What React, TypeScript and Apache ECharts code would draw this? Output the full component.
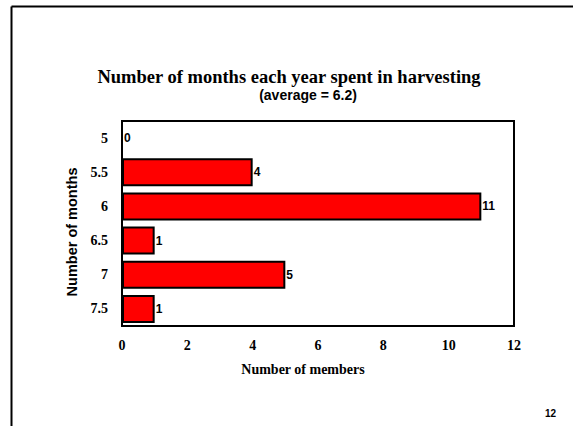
import React, { useEffect, useRef } from "react";
import * as echarts from "echarts";

const categories = ["5", "5.5", "6", "6.5", "7", "7.5"];
const members = [0, 4, 11, 1, 5, 1];
const titleText = "Number of months each year spent in harvesting";
const subtitleText = "(average = 6.2)";
const xName = "Number of members";
const yName = "Number of months";
const pageNumber = "12";

export default function App() {
  const ref = useRef<HTMLDivElement>(null);
  useEffect(() => {
    if (!ref.current) return;
    const chart = echarts.init(ref.current, null, { renderer: "svg" });
    const serif = "'Liberation Serif', 'Times New Roman', serif";
    const sans = "'Liberation Sans', Arial, sans-serif";
    chart.setOption({
      animation: false,
      backgroundColor: "#ffffff",
      grid: {
        left: 122,
        top: 121,
        right: 59,
        bottom: 100,
        show: true,
        borderColor: "#000",
        borderWidth: 2,
        backgroundColor: "transparent",
      },
      xAxis: {
        type: "value",
        min: 0,
        max: 12,
        interval: 2,
        splitLine: { show: false },
        axisTick: { show: false },
        axisLine: { show: true, lineStyle: { color: "#000", width: 2 } },
        axisLabel: {
          color: "#000",
          fontFamily: serif,
          fontWeight: "bold",
          fontSize: 14,
          margin: 12,
        },
      },
      yAxis: {
        type: "category",
        inverse: true,
        data: categories,
        axisTick: { show: false },
        axisLine: { show: true, lineStyle: { color: "#000", width: 2 } },
        axisLabel: {
          color: "#000",
          fontFamily: serif,
          fontWeight: "bold",
          fontSize: 14,
          margin: 14,
        },
      },
      series: [
        {
          type: "bar",
          data: members,
          barCategoryGap: "18%",
          itemStyle: { color: "#ff0000", borderColor: "#000", borderWidth: 2 },
          label: {
            show: true,
            position: "right",
            distance: 1,
            color: "#000",
            fontFamily: sans,
            fontWeight: "bold",
            fontSize: 12,
          },
        },
      ],
      graphic: [
        {
          type: "line",
          shape: { x1: 11.5, y1: 6.5, x2: 573, y2: 6.5 },
          style: { stroke: "#000", lineWidth: 2 },
        },
        {
          type: "line",
          shape: { x1: 11.5, y1: 6.5, x2: 11.5, y2: 426 },
          style: { stroke: "#000", lineWidth: 2 },
        },
        {
          type: "text",
          x: 289,
          y: 77,
          style: {
            text: titleText,
            fill: "#000",
            font: `bold 18.5px ${serif}`,
            textAlign: "center",
            textVerticalAlign: "middle",
          },
        },
        {
          type: "text",
          x: 308,
          y: 95,
          style: {
            text: subtitleText,
            fill: "#000",
            font: `bold 14px ${sans}`,
            textAlign: "center",
            textVerticalAlign: "middle",
          },
        },
        {
          type: "text",
          x: 303,
          y: 369,
          style: {
            text: xName,
            fill: "#000",
            font: `bold 14px ${serif}`,
            textAlign: "center",
            textVerticalAlign: "middle",
          },
        },
        {
          type: "text",
          x: 72,
          y: 232,
          rotation: Math.PI / 2,
          style: {
            text: yName,
            fill: "#000",
            font: `bold 14.5px ${sans}`,
            textAlign: "center",
            textVerticalAlign: "middle",
          },
        },
        {
          type: "text",
          x: 550.5,
          y: 413,
          style: {
            text: pageNumber,
            fill: "#000",
            font: `bold 10px ${sans}`,
            textAlign: "center",
            textVerticalAlign: "middle",
          },
        },
      ],
    });
    return () => chart.dispose();
  }, []);
  return (
    <div
      ref={ref}
      style={{ position: "fixed", left: 0, top: 0, width: 573, height: 426 }}
    />
  );
}
